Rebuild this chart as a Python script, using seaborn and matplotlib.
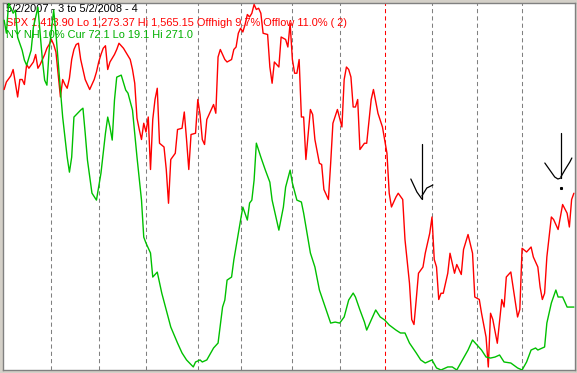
import matplotlib
matplotlib.use("Agg")
import matplotlib.pyplot as plt
import seaborn as sns
import pandas as pd

# ---- data (trading-day index since 5/2/2007) ----
spx_days = [0, 1, 3, 4, 5, 6, 7, 8, 9, 10, 11, 13, 14, 15, 16, 17, 18, 19, 20, 21, 22, 23, 24, 25, 26, 27, 28, 29, 30, 31, 32, 33, 34, 35, 36, 37, 38, 39, 40, 41, 42, 43, 44, 45, 46, 47, 49, 50, 51, 53, 56, 57, 58, 59, 60, 61, 62, 63, 64, 65, 66, 67, 68, 69, 71, 72, 73, 74, 76, 77, 79, 80, 81, 82, 83, 85, 86, 87, 88, 89, 90, 92, 93, 94, 95, 96, 98, 99, 101, 102, 103, 104, 105, 106, 107, 108, 109, 110, 111, 112, 113, 114, 115, 117, 118, 119, 120, 122, 123, 125, 126, 127, 128, 129, 130, 131, 132, 133, 134, 136, 137, 138, 140, 141, 142, 144, 145, 146, 148, 150, 151, 152, 153, 154, 155, 156, 157, 158, 160, 161, 163, 164, 166, 168, 170, 171, 172, 174, 175, 177, 178, 180, 181, 182, 183, 184, 186, 187, 189, 190, 191, 192, 193, 194, 195, 197, 198, 200, 201, 203, 204, 206, 208, 209, 211, 212, 214, 215, 216, 217, 219, 221, 222, 223, 225, 226, 228, 229, 230, 232, 234, 235, 237, 238, 239, 240, 241, 243, 244, 246, 247, 248, 250, 251, 252, 253]
spx_values = [1497, 1503, 1508, 1513, 1502, 1491, 1505, 1505, 1501, 1517, 1514, 1519, 1525, 1514, 1517, 1521, 1525, 1530, 1533, 1537, 1533, 1527, 1509, 1491, 1505, 1501, 1498, 1506, 1521, 1529, 1533, 1534, 1521, 1513, 1505, 1501, 1497, 1501, 1505, 1511, 1519, 1525, 1530, 1532, 1513, 1519, 1525, 1529, 1534, 1530, 1521, 1513, 1502, 1474, 1465, 1457, 1470, 1463, 1475, 1433, 1473, 1489, 1498, 1454, 1451, 1433, 1406, 1441, 1446, 1465, 1466, 1479, 1457, 1433, 1461, 1462, 1489, 1477, 1457, 1453, 1473, 1481, 1485, 1478, 1523, 1529, 1521, 1519, 1521, 1529, 1531, 1542, 1546, 1543, 1549, 1557, 1555, 1558, 1565, 1561, 1562, 1558, 1542, 1541, 1515, 1502, 1519, 1515, 1539, 1537, 1531, 1550, 1521, 1510, 1510, 1521, 1475, 1475, 1441, 1481, 1477, 1457, 1438, 1437, 1417, 1409, 1438, 1470, 1481, 1467, 1505, 1515, 1513, 1507, 1483, 1483, 1489, 1449, 1454, 1454, 1489, 1497, 1478, 1467, 1446, 1414, 1403, 1411, 1414, 1409, 1377, 1342, 1313, 1309, 1329, 1350, 1355, 1366, 1382, 1395, 1361, 1355, 1329, 1334, 1334, 1350, 1366, 1350, 1357, 1349, 1369, 1381, 1366, 1331, 1329, 1318, 1299, 1275, 1318, 1313, 1294, 1329, 1323, 1347, 1351, 1339, 1315, 1321, 1370, 1367, 1371, 1363, 1355, 1339, 1329, 1334, 1363, 1395, 1393, 1385, 1395, 1405, 1398, 1387, 1409, 1414]

nh_days = [0, 1, 2, 4, 5, 6, 8, 9, 10, 12, 13, 15, 17, 18, 19, 20, 22, 23, 25, 26, 28, 29, 30, 31, 34, 35, 36, 37, 39, 41, 43, 45, 46, 47, 48, 49, 50, 52, 54, 55, 57, 59, 61, 62, 63, 65, 66, 68, 70, 74, 77, 79, 81, 84, 85, 87, 88, 90, 93, 95, 97, 98, 99, 101, 102, 104, 105, 106, 108, 109, 110, 111, 112, 114, 116, 118, 119, 121, 122, 124, 125, 127, 128, 130, 132, 133, 136, 138, 140, 143, 145, 147, 149, 151, 153, 155, 156, 158, 160, 161, 163, 165, 167, 169, 171, 174, 176, 178, 180, 183, 185, 187, 190, 192, 194, 197, 199, 201, 203, 206, 208, 210, 212, 214, 216, 218, 220, 222, 225, 228, 230, 232, 234, 236, 237, 240, 241, 243, 245, 246, 248, 250, 252, 253]
nh_values = [259.2, 250.3, 270.9, 264.0, 266.1, 247.5, 238.6, 231.8, 228.3, 238.6, 254.4, 268.1, 231.8, 218.0, 214.6, 238.6, 266.1, 250.3, 211.2, 192.7, 165.2, 154.9, 165.2, 192.7, 197.5, 198.8, 181.7, 163.2, 140.5, 135.7, 154.2, 181.7, 192.7, 185.8, 176.9, 204.3, 220.1, 221.5, 211.2, 209.1, 197.5, 165.2, 135.7, 110.3, 106.2, 99.4, 82.9, 86.3, 71.9, 48.6, 37.6, 30.8, 26.0, 21.2, 24.6, 26.0, 24.6, 26.0, 34.2, 37.6, 62.3, 67.1, 80.8, 82.9, 94.6, 113.1, 122.0, 130.9, 122.0, 133.7, 135.7, 149.4, 174.8, 165.2, 156.3, 148.0, 135.7, 122.0, 115.1, 130.9, 144.6, 156.3, 147.4, 135.7, 134.4, 126.8, 99.4, 89.8, 74.0, 60.3, 51.3, 52.0, 51.3, 55.5, 67.1, 71.9, 69.2, 60.3, 52.0, 46.5, 53.4, 60.3, 55.5, 53.4, 50.0, 46.5, 44.5, 44.5, 37.6, 30.8, 26.0, 23.9, 26.0, 20.5, 19.1, 21.2, 21.2, 19.1, 24.6, 32.8, 39.7, 36.3, 32.8, 28.0, 27.3, 28.0, 29.4, 24.6, 23.9, 20.5, 19.1, 24.6, 32.8, 34.2, 32.8, 34.9, 51.3, 65.1, 74.0, 69.2, 69.2, 62.3, 62.3, 62.3]

month_start_days = [21, 42, 63, 86, 105, 128, 149, 169, 190, 210, 230]
year_start_day = 169

title_line = "5/2/2007 - 3 to 5/2/2008 - 4"
spx_line = "SPX 1,413.90 Lo 1,273.37 Hi 1,565.15 Offhigh 9.7% Offlow 11.0% ( 2)"
nh_line = "NY NH 10% Cur 72.1 Lo 19.1 Hi 271.0"

# hand-drawn arrows (day, SPX scale)
arrow1_shaft_x = [185.5, 185.5]
arrow1_shaft_y = [1453.4, 1409.4]
arrow1_left_x = [180.6, 183.3, 185.5]
arrow1_left_y = [1425.4, 1415.0, 1409.4]
arrow1_right_x = [185.5, 187.7, 190.4]
arrow1_right_y = [1411.8, 1418.2, 1420.6]
arrow2_shaft_x = [247.2, 247.2]
arrow2_shaft_y = [1462.2, 1426.2]
arrow2_left_x = [240.1, 242.3, 244.5, 245.9, 247.2]
arrow2_left_y = [1438.2, 1432.6, 1427.0, 1425.4, 1426.2]
arrow2_right_x = [247.2, 249.0, 251.2, 252.1]
arrow2_right_y = [1427.0, 1432.6, 1439.0, 1442.2]

spx_df = pd.DataFrame({"day": spx_days, "value": spx_values})
nh_df = pd.DataFrame({"day": nh_days, "value": nh_values})

sns.set_style("white")
plt.rcParams["font.family"] = ["Liberation Sans", "DejaVu Sans"]

fig = plt.figure(figsize=(5.77, 3.73), dpi=100, facecolor="#d4d0c8")
W, H = 577, 373
ax = fig.add_axes([3 / W, 3 / H, 572 / W, 367 / H])
ax.set_facecolor("white")

for d in month_start_days:
    col = "#ff0000" if d == year_start_day else "#808080"
    ax.axvline(d, color=col, lw=0.75, linestyle=(0, (4, 3)), zorder=1)

sns.lineplot(data=spx_df, x="day", y="value", ax=ax, color="#ff0000",
             lw=1.0, zorder=4, estimator=None, sort=False)

for xs, ys in [(arrow1_shaft_x, arrow1_shaft_y), (arrow1_left_x, arrow1_left_y),
               (arrow1_right_x, arrow1_right_y), (arrow2_shaft_x, arrow2_shaft_y),
               (arrow2_left_x, arrow2_left_y), (arrow2_right_x, arrow2_right_y)]:
    ax.plot(xs, ys, color="black", lw=0.9, zorder=5)
ax.plot([247.2], [1418.2], marker="s", ms=1.2, color="black", zorder=5)

ax.set_xlim(-0.5, 253.5)
ax.set_ylim(1272.6, 1566.2)

ax2 = ax.twinx()
sns.lineplot(data=nh_df, x="day", y="value", ax=ax2, color="#00c000",
             lw=1.0, estimator=None, sort=False)
ax2.set_ylim(19.1, 271.0)
ax2.set_xlim(-0.5, 253.5)

for a in (ax, ax2):
    a.set_xticks([])
    a.set_yticks([])
    a.set_xlabel("")
    a.set_ylabel("")
    for s in a.spines.values():
        s.set_visible(False)
for s in ax.spines.values():
    s.set_visible(True)
    s.set_color("#808080")
    s.set_linewidth(1.0)

fs = 7.9
ax.text(6 / W, 1 - 9.5 / H, title_line, transform=fig.transFigure, color="black",
        fontsize=fs, va="center", ha="left", zorder=3)
ax.text(6 / W, 1 - 22.5 / H, spx_line, transform=fig.transFigure, color="#ff0000",
        fontsize=fs, va="center", ha="left", zorder=3)
ax.text(6 / W, 1 - 34.5 / H, nh_line, transform=fig.transFigure, color="#00b000",
        fontsize=fs, va="center", ha="left", zorder=3)

fig.savefig("out.png", dpi=100, facecolor=fig.get_facecolor())
